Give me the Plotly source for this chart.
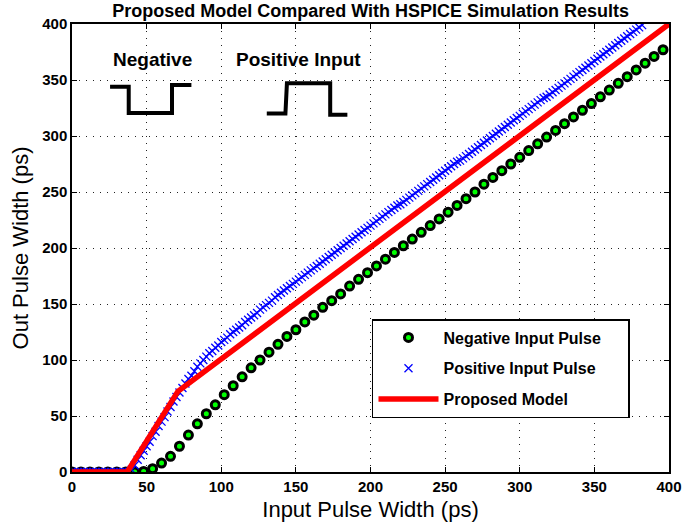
import plotly.graph_objects as go

# ---------------- data ----------------
green_x = list(range(0, 397, 6))
green_y = [0, 0, 0, 0, 0, 0, 0,
           0, 0.5, 3, 8, 14, 23, 33, 43, 52, 60, 69, 77, 85, 93, 100, 107, 114, 121,
           127, 134, 140, 147, 153, 159, 166, 172, 178, 184, 190, 196, 202, 208, 214,
           220, 226, 232, 238, 244, 250, 257, 263, 269, 275, 281, 287, 293, 299, 305,
           311, 317, 323, 329, 335, 341, 347, 353, 359, 365, 371, 377]

blue_x = list(range(0, 383, 2))
blue_y = [0, 0, 0, 0, 0, 0, 0, 0, 0, 0, 0, 0, 0, 0, 0, 0, 0, 0, 0, 0,
          2, 6, 11, 15, 19, 23, 27, 32, 36, 41, 45, 49, 54, 58, 63, 67, 71, 75, 79, 83,
          86, 90, 94, 97, 100, 103, 106, 108, 111, 113, 116, 118, 120, 123, 125, 127,
          129, 131, 134, 136, 138, 140, 142, 145, 147, 149, 151, 153, 156, 158, 160,
          162, 164, 166, 168, 170,
          172, 174, 176, 178, 180, 182, 184, 186, 188, 190, 192, 194, 196, 198, 200,
          202, 204, 206, 208, 210, 212, 214, 216, 218, 220,
          222, 224, 226, 228, 230, 232, 234, 236, 238, 239, 241, 243, 245, 247, 249,
          251, 253, 255, 257, 259, 261, 263, 265, 267, 269,
          271, 273, 275, 277, 278, 280, 282, 284, 286, 288, 290, 292, 294, 296, 298,
          300, 302, 304, 306, 308, 310, 312, 314, 316, 318,
          320, 322, 324, 326, 328, 330, 332, 334, 335, 337, 339, 341, 343, 345, 347,
          349, 351, 353, 355, 357, 359, 361, 363, 365, 367,
          369, 371, 373, 375, 377, 379, 381, 383, 385, 387, 389, 391, 393, 395, 397, 399]

red_x = [0, 37, 71, 400]
red_y = [0, 0, 72, 400]

neg_pulse_x = [25.5, 38, 38, 67, 67, 80]
neg_pulse_y = [344, 344, 320.5, 320.5, 345.5, 345.5]
pos_pulse_x = [130.5, 143, 144, 173, 173, 184.5]
pos_pulse_y = [320, 320, 347, 347, 319, 319]

tick_vals = [0, 50, 100, 150, 200, 250, 300, 350, 400]
tick_text = ["0", "50", "100", "150", "200", "250", "300", "350", "400"]

series_names = ["Negative Input Pulse", "Positive Input Pulse", "Proposed Model"]
pulse_labels = ["Negative", "Positive Input"]
pulse_label_x = [54, 152]
pulse_label_y = [368, 368]

FONT = "Liberation Sans, Arial, sans-serif"
PAD = "\u00a0" * 5  # widens the legend box to the reference's size

fig = go.Figure()
fig.add_trace(go.Scatter(
    x=green_x, y=green_y, mode="markers", name=series_names[0] + PAD,
    legendgroup="g1",
    marker=dict(symbol="circle", size=8, color="#00ff00",
                line=dict(color="black", width=3))))
fig.add_trace(go.Scatter(
    x=blue_x, y=blue_y, mode="markers", name=series_names[1],
    legendgroup="g2",
    marker=dict(symbol="x-thin", size=8, color="#0000ff",
                line=dict(color="#0000ff", width=1.3))))
fig.add_trace(go.Scatter(
    x=red_x, y=red_y, mode="lines", name=series_names[2],
    legendgroup="g3",
    line=dict(color="#ff0000", width=5.5)))
for px_, py_ in [(neg_pulse_x, neg_pulse_y), (pos_pulse_x, pos_pulse_y)]:
    fig.add_trace(go.Scatter(x=px_, y=py_, mode="lines", showlegend=False,
                             hoverinfo="skip",
                             line=dict(color="black", width=4)))

for t, ax, ay in zip(pulse_labels, pulse_label_x, pulse_label_y):
    fig.add_annotation(x=ax, y=ay, xref="x", yref="y", text="<b>%s</b>" % t,
                       showarrow=False,
                       font=dict(family=FONT, size=19, color="black"))

axis_common = dict(
    range=[0, 400], tickvals=tick_vals, ticktext=tick_text,
    ticks="inside", ticklen=5, tickcolor="black", tickwidth=1,
    showline=True, linecolor="black", linewidth=1.5, mirror="ticks",
    showgrid=True, gridcolor="#222", griddash="1px,6px", gridwidth=1,
    zeroline=False, automargin=False,
    tickfont=dict(family=FONT, size=15, color="black", weight="bold"),
)

fig.update_layout(
    width=682, height=529,
    margin=dict(l=72, r=13, t=24, b=57),
    paper_bgcolor="white", plot_bgcolor="white",
    title=dict(text="<b>Proposed Model Compared With HSPICE Simulation Results</b>",
               x=0.5435, xanchor="center", y=0.979, yanchor="middle",
               yref="container", automargin=False,
               font=dict(family=FONT, size=18, color="black")),
    xaxis=dict(**axis_common,
               title=dict(text="Input Pulse Width (ps)", standoff=8,
                          font=dict(family=FONT, size=22, color="black"))),
    yaxis=dict(**axis_common,
               title=dict(text="Out Pulse Width (ps)", standoff=8,
                          font=dict(family=FONT, size=22, color="black"))),
    legend=dict(x=0.5025, y=0.3415, xanchor="left", yanchor="top",
                bgcolor="white", bordercolor="black", borderwidth=1.5,
                font=dict(family=FONT, size=16, color="black", weight="bold"),
                itemwidth=60, traceorder="grouped", tracegroupgap=7),
    showlegend=True,
)

fig.write_html("out.html")
